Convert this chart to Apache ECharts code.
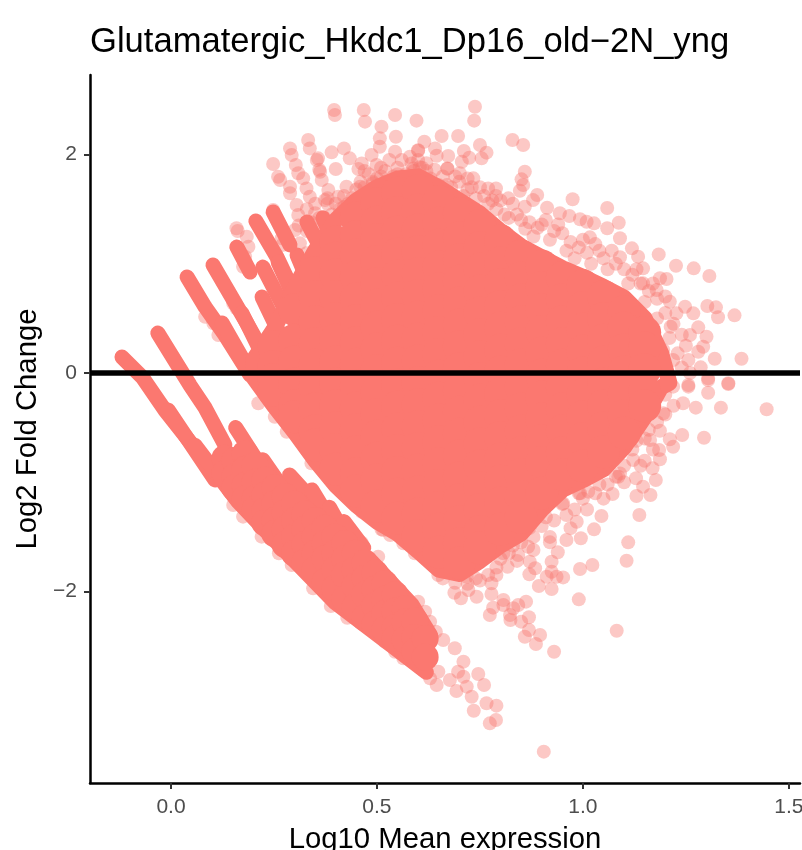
<!DOCTYPE html>
<html><head><meta charset="utf-8">
<style>html,body{margin:0;padding:0;background:#fff;overflow:hidden}#c{width:802px;height:850px}</style>
<script src="https://cdn.jsdelivr.net/npm/echarts@6/dist/echarts.min.js"></script>
</head><body><div id="c"></div>
<script>
const titleText = 'Glutamatergic_Hkdc1_Dp16_old\u22122N_yng';
const xName = 'Log10 Mean expression';
const yName = 'Log2 Fold Change';
const xTicks = [0, 0.5, 1, 1.5];
const yTicks = [-2, 0, 2];

// isolated, individually readable points
const scatterTopRight = [[.738,2.438],[.736,2.31],[.544,2.362],[.596,2.31],[.546,2.163],[.657,2.169],[.697,2.169],[.615,2.117],[.829,2.133],[.855,2.087],[.75,2.087],[.6,2.035],[.6,2.04],[.641,2.056],[.544,2.026],[.645,1.989],[.711,2.032],[.766,2.017],[.754,1.965],[.724,1.971],[.673,1.986],[.706,1.934],[.56,1.95],[.584,1.919],[.604,1.883],[.671,1.873],[.671,1.87],[.588,1.873],[.859,1.843],[.851,1.773],[.855,1.721],[.847,1.669],[.734,1.782],[.701,1.828],[.77,1.69],[.789,1.69],[.789,1.62],[.975,1.59],[1.059,1.51],[.889,1.629],[.879,1.583],[.859,1.522],[.913,1.513],[.819,1.599],[.944,1.462],[.967,1.437],[.993,1.407],[1.027,1.37],[1.009,1.385],[1.087,1.376],[1.059,1.325],[1.09,1.233],[1.017,1.242],[1.119,1.141],[1.184,1.086],[1.226,.982],[1.269,.958],[1.307,.888],[1.146,.958],[1.134,1.065],[1.203,.86],[1.187,.867],[1.146,.821],[1.179,.76],[1.211,.653],[1.248,.607],[1.302,.613],[1.323,.601],[1.328,.51],[1.368,.528],[1.268,.546],[1.28,.418],[1.3,.332],[1.32,.131],[1.385,.131],[1.286,.052],[1.28,.195],[1.256,.119],[1.304,-.064],[1.353,-.094],[1.256,-.11],[1.292,.241],[1.26,.348],[1.213,.424],[1.227,.546],[1.195,.211],[1.219,.119]];
const scatterBottomRight = [[1.353,-.101],[1.304,-.18],[1.304,-.049],[1.446,-.332],[1.335,-.317],[1.274,-.317],[1.241,-.567],[1.294,-.592],[1.211,-.607],[1.219,-.675],[1.185,-.705],[1.187,-.79],[1.15,-.803],[1.187,-.528],[1.169,-.872],[1.177,-.979],[1.129,-.964],[1.146,-1.041],[1.164,-1.117],[1.13,-1.126],[1.137,-1.3],[1.072,-1.108],[1.11,-1.55],[1.106,-1.718],[1.045,-1.309],[1.027,-1.431],[.995,-1.513],[.985,-1.361],[1.023,-1.757],[.993,-1.794],[.99,-2.072],[1.082,-2.359],[.93,-2.551],[.905,-3.466],[.939,-1.641],[.871,-1.727],[.87,-1.843],[.884,-1.787],[.924,-1.727],[.924,-1.819],[.952,-1.871],[.936,-1.865],[.912,-1.865],[.893,-1.95],[.924,-1.977],[.817,-1.773],[.867,-1.59],[.843,-1.666],[.96,-1.529],[.79,-1.849],[.778,-1.925],[.778,-2.023],[.742,-2.048],[.722,-1.986],[.688,-2.011],[.704,-2.062],[.807,-2.078],[.782,-2.148],[.774,-2.215],[.807,-2.124],[.831,-2.154],[.862,-2.093],[.843,-2.124],[.823,-2.215],[.824,-2.261],[.869,-2.236],[.85,-2.276],[.869,-2.352],[.896,-2.398],[.859,-2.414],[.886,-2.48],[.718,-1.865],[.762,-1.574],[.807,-1.65],[.92,-1.5],[.952,-1.193],[.993,-1.101],[1.013,-1.086],[1.086,-.949],[1.122,-.796],[1.163,-.613],[1.195,-.369],[1.243,-.277],[1.219,-.125],[1.256,-.125]];
const scatterWedgeTail = [[.746,-2.755],[.76,-2.856],[.73,-2.963],[.693,-2.911],[.718,-2.871],[.766,-3.023],[.79,-3.045],[.735,-3.091],[.774,-3.207],[.789,-3.176],[.689,-2.52],[.71,-2.642],[.697,-2.734],[.661,-2.444],[.643,-2.368],[.645,-2.856],[.629,-2.795],[.612,-2.719],[.564,-2.611],[.544,-2.551],[.519,-2.459],[.479,-2.322],[.588,-2.566],[.6,-2.093],[.617,-2.185],[.629,-2.276],[.649,-2.734],[.677,-2.81],[.71,-2.78],[.151,-1.208],[.175,-1.315],[.22,-1.498],[.262,-1.65],[.293,-1.757],[.345,-1.971],[.388,-2.133],[.428,-2.24],[.414,-2.139],[.463,-1.553],[.503,-1.681]];
const scatterMassLower = [[.592,-1.65],[.649,-1.849],[.564,-1.559],[.532,-1.483],[.511,-1.431],[.463,-1.27],[.212,-.277],[.252,-.4],[.281,-.537],[.341,-.827],[.386,-.949],[.402,-1.01],[.434,-1.132],[.463,-1.254],[.515,-1.437]];
const scatterTopLeft = [[.396,2.407],[.398,2.362],[.468,2.407],[.471,2.301],[.511,2.255],[.507,2.148],[.333,2.133],[.337,2.056],[.289,2.056],[.293,1.996],[.357,1.965],[.354,1.95],[.39,2.02],[.42,2.056],[.434,1.965],[.4,1.867],[.362,1.843],[.36,1.86],[.248,1.913],[.303,1.904],[.309,1.828],[.26,1.797],[.321,1.782],[.366,1.767],[.455,1.867],[.487,1.996],[.499,1.904],[.507,2.071],[.289,1.705],[.265,1.767],[.329,1.69],[.289,1.645],[.337,1.614],[.426,1.705],[.382,1.675],[.374,1.583],[.406,1.614],[.463,1.919],[.305,1.538],[.309,1.446],[.248,1.492],[.35,1.462],[.37,1.431],[.159,1.325],[.162,1.3],[.269,1.233],[.301,1.309],[.27,1.172],[.313,1.187],[.184,1.248],[.159,1.156],[.18,1.065],[.175,.973],[.188,1.156],[.329,1.096],[.491,1.736],[.459,1.705],[.083,.515],[.103,.455],[.115,.348],[.159,.592],[.151,.638]];
// crowded pink fringe around the saturated mass
const fringeTop = [[.33,1.3],[.35,1.25],[.37,1.35],[.39,1.45],[.41,1.5],[.43,1.55],[.41,1.38],[.44,1.45],[.46,1.55],[.48,1.65],[.5,1.72],[.45,1.68],[.42,1.62],[.38,1.55],[.35,1.55],[.33,1.5],[.31,1.35],[.52,1.75],[.54,1.8],[.49,1.75],[.47,1.85],[.51,1.88],[.53,1.7],[.56,1.75],[.44,1.6],[.46,1.75],[.48,1.82],[.5,1.78],[.52,1.85],[.53,1.95],[.55,1.88],[.57,1.82],[.58,1.98],[.62,1.85],[.63,1.78],[.65,1.72],[.66,1.8],[.68,1.7],[.7,1.75],[.72,1.68],[.74,1.6],[.75,1.7],[.77,1.55],[.79,1.5],[.81,1.45],[.83,1.55],[.85,1.4],[.87,1.38],[.89,1.33],[.91,1.4],[.93,1.3],[.95,1.28],[.97,1.2],[.99,1.15],[1.01,1.1],[1.03,1.18],[1.05,1.05],[1.07,1.12],[1.08,1],[1.1,.95],[1.12,.9],[1.14,.82],[1.16,.75],[1.18,.68],[1.2,.55],[1.22,.45],[1.24,.35],[1.25,.25],[1.24,.05],[1.26,0],[.6,1.95],[.62,1.92],[.64,1.86],[.69,1.8],[.72,1.78],[.76,1.62],[.8,1.58],[.84,1.45],[.9,1.36],[.94,1.36],[1,1.22],[1.04,1.12],[1.09,1.06],[1.13,.95],[1.17,.82],[1.2,.7],
 [.38,1.6],[.4,1.55],[.42,1.52],[.36,1.42],[.34,1.38],[.47,1.7],[.51,1.8],[.55,1.82],[.59,1.85],[.61,1.88],[.67,1.72],[.71,1.62],[.73,1.7],[.78,1.58],[.82,1.42],[.86,1.32],[.88,1.25],[.92,1.22],[.96,1.12],[.98,1.05],[1.02,1],[1.06,.95],[1.11,.82],[1.15,.65],[1.18,.5],[1.21,.32],[1.23,.18]];
const fringeLower = [[1.2,-.2],[1.22,-.3],[1.18,-.45],[1.15,-.6],[1.12,-.7],[1.1,-.85],[1.08,-.95],[1.06,-1.02],[1.03,-1.1],[1,-1.15],[.98,-1.25],[.96,-1.3],[.93,-1.35],[.9,-1.4],[.88,-1.5],[.85,-1.55],[.82,-1.65],[.8,-1.7],[.77,-1.85],[1.17,-.7],[1.14,-.85],[1.1,-1],[1.05,-1.15],[1.01,-1.25],[.97,-1.42],[.92,-1.55],[.88,-1.62],[.84,-1.72],[.75,-1.9],[.72,-1.93],[.69,-1.92],
 [1.2,-.38],[1.16,-.52],[1.13,-.62],[1.09,-.92],[1.04,-1.02],[.99,-1.1],[.95,-1.2],[.91,-1.32],[.87,-1.42],[.83,-1.58],[.79,-1.78],[.74,-1.88],[.66,-1.88],[.62,-1.7],[.57,-1.5],[.53,-1.42]];

// overplotted streaks of points, read as paths
const streaks = [
 [[-.119,.146],[-.07,-.037],[-.015,-.339],[.046,-.63],[.107,-.934]],
 [[-.007,-.339],[.107,-.979]],
 [[-.032,.366],[.046,-.11],[.083,-.32],[.131,-.659]],
 [[.039,.879],[.083,.604],[.131,.348],[.192,-.018]],
 [[.102,.989],[.184,.458],[.221,.21]],
 [[.124,.458],[.192,.009]],
 [[.172,.549],[.228,.119]],
 [[.16,1.153],[.192,.924]],
 [[.206,1.391],[.257,1.062],[.301,.714]],
 [[.221,.696],[.277,.256]],
 [[.26,1.016],[.313,.577]],
 [[.306,1.08],[.362,.577]],
 [[.223,.97],[.277,.577]],
 [[.248,1.474],[.289,1.172]],
 [[.248,.394],[.289,.119]],
 [[.33,1.382],[.398,.897]],
 [[.369,1.419],[.422,.943]],
 [[.157,-.5],[.222,-.88]],
 [[.223,-.795],[.296,-1.19]],
 [[.288,-.933],[.352,-1.2]],
 [[.342,-1.07],[.4,-1.43]],
 [[.385,-1.23],[.425,-1.5]],
 [[.42,-1.36],[.468,-1.6]],
 [[.488,-1.73],[.585,-2.12],[.63,-2.4]],
 [[.058,-.66],[.163,-1.18],[.269,-1.6],[.398,-2.1],[.544,-2.52],[.62,-2.74]]
];
// outline of the saturated mass
const massRim = [[.2,.12],[.25,.4],[.3,.78],[.35,1.12],[.4,1.4],[.45,1.58],[.5,1.7],[.55,1.78],[.6,1.8],[.65,1.7],[.7,1.58],[.75,1.46],[.8,1.3],[.85,1.16],[.9,1.06],[.95,.96],[1,.88],[1.05,.79],[1.1,.69],[1.15,.5],[1.19,.18],[1.21,-.09],[1.19,-.13],[1.15,-.4],[1.1,-.68],[1.05,-.88],[1,-.98],[.95,-1.07],[.9,-1.25],[.85,-1.47],[.8,-1.58],[.75,-1.72],[.7,-1.84],[.65,-1.8],[.6,-1.63],[.55,-1.47],[.5,-1.36],[.45,-1.21],[.4,-1.03],[.35,-.8],[.3,-.54],[.25,-.3],[.2,-.04],[.2,.12]];

// saturated interior: x, then the y values covered at that x
const massColumns = [
 [.25,[.24,.06,-.06,-.16]],
 [.3,[.58,.3,.1,-.1,-.3,-.4]],
 [.35,[.92,.7,.47,.27,.07,-.13,-.33,-.53,-.66]],
 [.4,[1.2,1.05,.9,.7,.5,.3,.1,-.1,-.3,-.5,-.7,-.88]],
 [.45,[1.42,1.25,1.08,.88,.68,.48,.28,.08,-.12,-.32,-.52,-.72,-.92,-1.08]],
 [.5,[1.55,1.38,1.22,1.02,.82,.62,.42,.22,.02,-.18,-.38,-.58,-.78,-.98,-1.22]],
 [.55,[1.65,1.47,1.29,1.09,.89,.69,.49,.29,.09,-.11,-.31,-.51,-.71,-.91,-1.11,-1.33]],
 [.6,[1.67,1.49,1.31,1.11,.91,.71,.51,.31,.11,-.09,-.29,-.49,-.69,-.89,-1.09,-1.29,-1.49]],
 [.65,[1.57,1.37,1.17,.97,.77,.57,.37,.17,-.03,-.23,-.43,-.63,-.83,-1.03,-1.23,-1.43,-1.64]],
 [.7,[1.46,1.24,1.04,.84,.64,.44,.24,.04,-.16,-.36,-.56,-.76,-.96,-1.16,-1.36,-1.56,-1.74]],
 [.75,[1.35,1.15,.95,.75,.55,.35,.15,-.05,-.25,-.45,-.65,-.85,-1.05,-1.25,-1.45,-1.6]],
 [.8,[1.21,1.01,.81,.61,.41,.21,.01,-.19,-.39,-.59,-.79,-.99,-1.19,-1.43]],
 [.85,[1.07,.87,.67,.47,.27,.07,-.13,-.33,-.53,-.73,-.93,-1.13,-1.32]],
 [.9,[.98,.78,.58,.38,.18,-.02,-.22,-.42,-.62,-.82,-1.1]],
 [.95,[.87,.67,.47,.27,.07,-.13,-.33,-.53,-.73,-.93]],
 [1,[.8,.6,.4,.2,0,-.2,-.4,-.6,-.85]],
 [1.05,[.7,.5,.3,.1,-.1,-.3,-.5,-.72]],
 [1.1,[.56,.41,.21,.01,-.19,-.39,-.55]],
 [1.15,[.37,.23,.03,-.17,-.3]]
];
// saturated lower wedge
const wedgeColumns = [
 [.131,[-.78,-.92]],
 [.155,[-.8,-.95,-1.05]],
 [.18,[-.74,-.88,-1.03,-1.15]],
 [.204,[-.85,-1,-1.15,-1.25]],
 [.228,[-.98,-1.12,-1.26,-1.37]],
 [.252,[-1.05,-1.2,-1.35,-1.47]],
 [.277,[-1.13,-1.28,-1.43,-1.57]],
 [.3,[-1.2,-1.35,-1.5,-1.65]],
 [.325,[-1.29,-1.43,-1.57,-1.73]],
 [.35,[-1.35,-1.5,-1.65,-1.8]],
 [.374,[-1.42,-1.56,-1.7,-1.91]],
 [.398,[-1.5,-1.65,-1.8,-1.97]],
 [.422,[-1.56,-1.7,-1.85,-2.07]],
 [.447,[-1.65,-1.8,-1.95,-2.14]],
 [.471,[-1.74,-1.88,-2.03,-2.24]],
 [.495,[-1.83,-1.98,-2.13,-2.3]],
 [.519,[-1.93,-2.07,-2.2,-2.35]],
 [.544,[-2.03,-2.18,-2.33,-2.43]],
 [.568,[-2.16,-2.28,-2.44]],
 [.592,[-2.27,-2.42,-2.55]],
 [.617,[-2.43,-2.6]]
];

const SOLID = '#FB7870';
const FONT = '"Liberation Sans", Arial, sans-serif';
const xMin = -0.1966, xMax = 1.527, yMin = -3.753, yMax = 2.728;
const flat = cols => cols.flatMap(c => c[1].map(y => [c[0], y]));
const looseAll = [].concat(scatterTopRight, scatterBottomRight, scatterWedgeTail, scatterMassLower, scatterTopLeft, fringeTop, fringeLower);

const series = [
 {type:'scatter', data:looseAll, symbolSize:14, itemStyle:{color:'#F8766D', opacity:.4}, z:2},
 ...streaks.map(s => ({type:'line', data:s, showSymbol:false, symbol:'none', z:3,
    lineStyle:{color:SOLID, width:15, cap:'round', join:'round', opacity:1}})),
 {type:'line', data:massRim, showSymbol:false, symbol:'none', z:3,
    lineStyle:{color:SOLID, width:16, cap:'round', join:'round'}},
 {type:'scatter', data:flat(massColumns), symbolSize:33, itemStyle:{color:SOLID, opacity:1}, z:3},
 {type:'scatter', data:flat(wedgeColumns), symbolSize:27, itemStyle:{color:SOLID, opacity:1}, z:3},
 {type:'line', data:[[xMin,0],[xMax,0]], showSymbol:false, symbol:'none', z:5,
    lineStyle:{color:'#000', width:5.5, cap:'butt'}}
];

const chart = echarts.init(document.getElementById('c'), null, {renderer:'canvas'});
chart.setOption({
 animation:false,
 backgroundColor:'#fff',
 title:{text:titleText, left:90, top:25, padding:0,
   textStyle:{fontFamily:FONT, fontSize:34.6, fontWeight:'normal', color:'#000'}},
 grid:{left:90, right:2, top:75, bottom:67, containLabel:false, outerBoundsMode:'none'},
 xAxis:{type:'value', min:xMin, max:xMax, name:xName, nameLocation:'middle', nameGap:42,
   nameTextStyle:{fontFamily:FONT, fontSize:29.3, color:'#000'},
   splitLine:{show:false},
   axisLine:{onZero:false, lineStyle:{color:'#000', width:2.5}},
   axisTick:{length:6, lineStyle:{color:'#333', width:2}, customValues:xTicks},
   axisLabel:{fontFamily:FONT, fontSize:21, color:'#4D4D4D', margin:14, customValues:xTicks,
     hideOverlap:false, formatter:v => v.toFixed(1)}},
 yAxis:{type:'value', min:yMin, max:yMax, name:yName, nameLocation:'middle', nameGap:47,
   nameTextStyle:{fontFamily:FONT, fontSize:29.3, color:'#000'},
   splitLine:{show:false},
   axisLine:{onZero:false, lineStyle:{color:'#000', width:2.5}},
   axisTick:{length:6, lineStyle:{color:'#333', width:2}, customValues:yTicks},
   axisLabel:{fontFamily:FONT, fontSize:21, color:'#4D4D4D', margin:13, padding:[4,0,0,0], customValues:yTicks,
     formatter:v => String(v).replace('-', '\u2212')}},
 series
});
</script></body></html>
